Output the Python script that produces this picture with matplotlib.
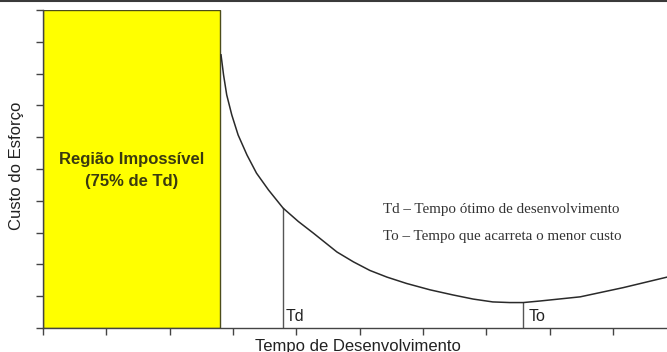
import matplotlib
matplotlib.use("Agg")
from matplotlib import pyplot as plt
from matplotlib.lines import Line2D
from matplotlib.patches import Rectangle

# curva de custo
tempo = [2.81, 2.85, 2.90, 2.98, 3.08, 3.22, 3.37, 3.56, 3.79, 4.03, 4.27, 4.64,
         4.90, 5.16, 5.43, 5.74, 6.11, 6.47, 6.79, 7.10, 7.37, 7.58, 7.85, 8.48,
         9.16, 9.85]
custo = [8.59, 7.96, 7.33, 6.70, 6.07, 5.44, 4.87, 4.34, 3.77, 3.35, 2.98, 2.39,
         2.08, 1.81, 1.60, 1.40, 1.20, 1.04, 0.91, 0.82, 0.80, 0.80, 0.85, 0.98,
         1.27, 1.60]

limite_impossivel = 2.79
td_x, td_y = 3.79, 3.77
to_x, to_y = 7.58, 0.80

x_ticks = list(range(0, 10))
y_ticks = list(range(0, 11))

fig = plt.figure(figsize=(6.67, 3.52), dpi=100)
ax = fig.add_axes([43 / 667, 24 / 352, 624 / 667, 318 / 352])

ax.add_patch(Rectangle((0, 0), limite_impossivel, 10, facecolor="#ffff00",
                       edgecolor="#4d4d1a", linewidth=1.0, zorder=2))
ax.text(limite_impossivel / 2, 4.95, "Região Impossível\n(75% de Td)",
        ha="center", va="center", fontsize=12, fontweight="bold",
        color="#3a3a10", family="Liberation Sans", linespacing=1.55, zorder=3)

ax.plot(tempo, custo, color="#2a2a2a", linewidth=1.1, zorder=3)
ax.plot([td_x, td_x], [0, td_y], color="#555555", linewidth=1.0)
ax.plot([to_x, to_x], [0, to_y], color="#555555", linewidth=1.0)
ax.text(td_x + 0.04, 0.22, "Td", fontsize=11.5, family="Liberation Sans", color="#222222")
ax.text(to_x + 0.08, 0.22, "To", fontsize=11.5, family="Liberation Sans", color="#222222")

ax.text(5.37, 3.72, "Td – Tempo ótimo de desenvolvimento", fontsize=10.8,
        family="Liberation Serif", color="#333333", va="center")
ax.text(5.37, 2.88, "To – Tempo que acarreta o menor custo", fontsize=10.8,
        family="Liberation Serif", color="#333333", va="center")

ax.set_xticks(x_ticks)
ax.set_yticks(y_ticks)
ax.set_xlim(0, 9.85)
ax.set_ylim(0, 10)
ax.set_xticklabels([])
ax.set_yticklabels([])
ax.tick_params(axis="both", direction="out", length=5, width=1.0, color="#444444")
for side in ["top", "right"]:
    ax.spines[side].set_visible(False)
for side in ["left", "bottom"]:
    ax.spines[side].set_color("#444444")
    ax.spines[side].set_linewidth(1.0)

fig.text(17 / 667, 1 - 166 / 352, "Custo do Esforço", rotation=90, ha="center",
         va="center", fontsize=12, family="Liberation Sans", color="#222222")
fig.text(358 / 667, 1 - 346 / 352, "Tempo de Desenvolvimento", ha="center",
         va="center", fontsize=12, family="Liberation Sans", color="#222222")

fig.add_artist(Line2D([0, 1], [1 - 0.7 / 352, 1 - 0.7 / 352], color="#3a3a3a",
                      linewidth=1.5, transform=fig.transFigure))

fig.savefig("out.png", dpi=100)
